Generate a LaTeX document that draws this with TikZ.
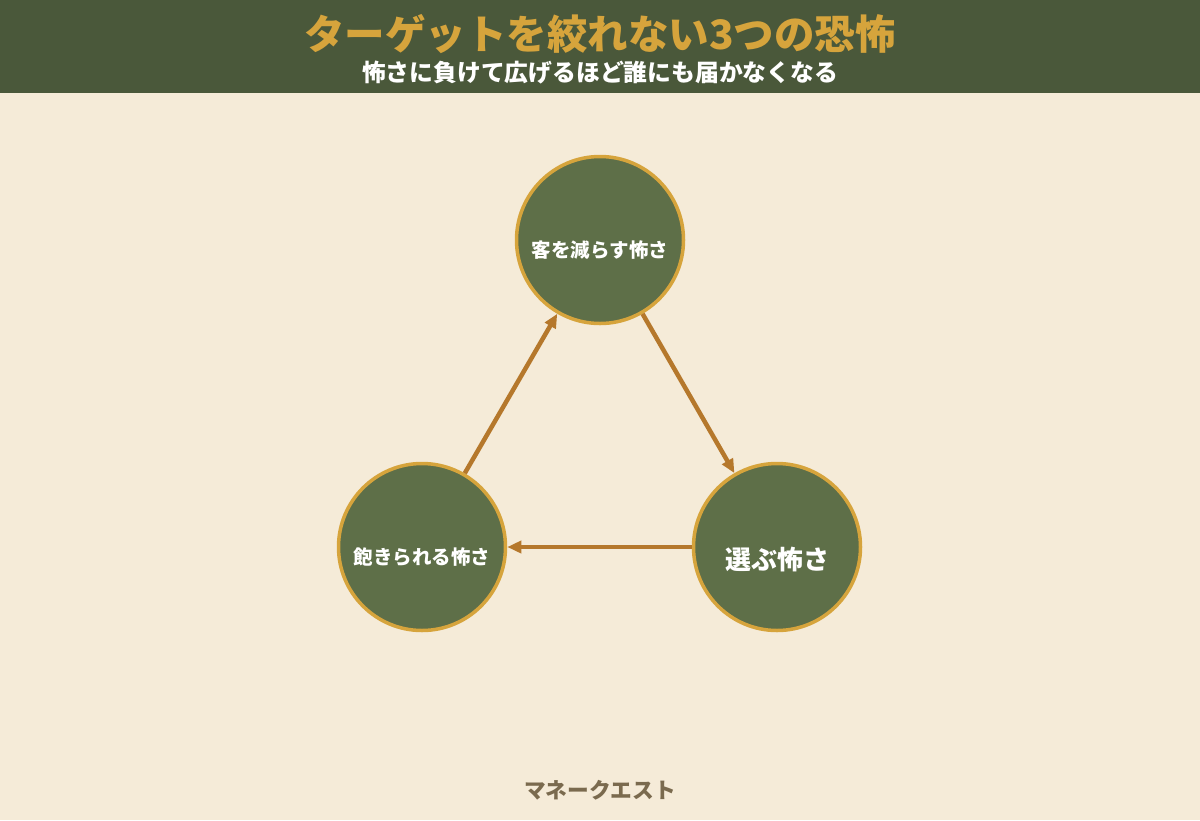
\documentclass[tikz,border=0pt]{standalone}
\usepackage{fontspec}
\newfontfamily\cjk{Noto Sans CJK JP}
\usetikzlibrary{arrows.meta}
\definecolor{bg}{HTML}{F5EBD8}
\definecolor{band}{HTML}{4A583A}
\definecolor{gold}{HTML}{D6A43C}
\definecolor{fillg}{HTML}{5E6F48}
\definecolor{arr}{HTML}{B5782C}
\definecolor{foot}{HTML}{7A6A4E}
\tikzset{
  fear/.style={circle, draw=gold, line width=3.5pt, fill=fillg, minimum size=167pt, inner sep=0pt},
  lab/.style={text=white, font=\cjk\bfseries},
  flow/.style={draw=arr, line width=4.5pt, -{Triangle[length=14pt,width=12pt]}}
}
\begin{document}
\begin{tikzpicture}[x=1pt,y=-1pt]
\fill[bg] (0,0) rectangle (1200,820);
\useasboundingbox (0,0) rectangle (1200,820);
\fill[band] (0,0) rectangle (1200,93);
\node[text=gold, font=\cjk\bfseries\fontsize{40.5}{46}\selectfont] (title) at (600,34) {ターゲットを絞れない3つの恐怖};
\node[text=white, font=\cjk\bfseries\fontsize{23.8}{27}\selectfont] (sub) at (600,73) {怖さに負けて広げるほど誰にも届かなくなる};
\node[fear] (top) at (600,240) {};
\node[fear] (right) at (777,547) {};
\node[fear] (left) at (422,547) {};
\node[lab, font=\cjk\bfseries\fontsize{19.5}{22}\selectfont] (tl) at (600,250) {客を減らす怖さ};
\node[lab, font=\cjk\bfseries\fontsize{26}{30}\selectfont] (rl) at (777,560) {選ぶ怖さ};
\node[lab, font=\cjk\bfseries\fontsize{19.5}{22}\selectfont] (ll) at (422,557) {飽きられる怖さ};
\draw[flow] (top) -- (right);
\draw[flow] (right) -- (left);
\draw[flow] (left) -- (top);
\node[text=foot, font=\cjk\bfseries\fontsize{21.7}{25}\selectfont] (footer) at (600,790) {マネークエスト};
\end{tikzpicture}
\end{document}
